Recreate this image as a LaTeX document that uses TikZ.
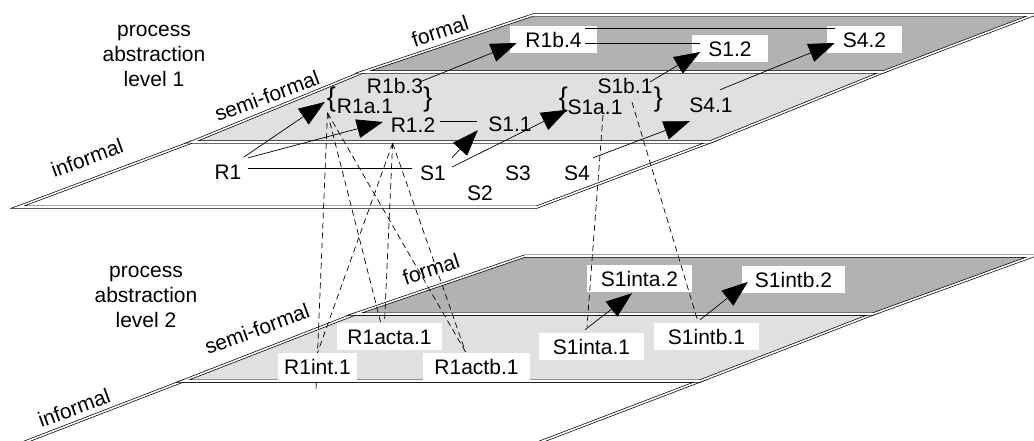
\documentclass[tikz,border=0pt]{standalone}
\usepackage{fontspec}
\setmainfont{Liberation Sans}
\usetikzlibrary{arrows.meta}

\definecolor{semifill}{gray}{0.88}
\definecolor{formalfill}{gray}{0.70}

\begin{document}
\begin{tikzpicture}[
  x=1pt, y=-1pt,
  plane/.style={draw, double, double distance=1.6pt, line width=0.7pt},
  lbl/.style={font=\fontsize{21}{25}\selectfont, inner sep=0pt, text height=15pt, text depth=0pt},
  boxlbl/.style={lbl, fill=white, inner xsep=14pt, inner ysep=6pt},
  brace/.style={font=\fontsize{27}{27}\selectfont, inner sep=0pt},
  level/.style={font=\fontsize{21}{25}\selectfont, align=center},
  layer/.style={font=\fontsize{21}{25}\selectfont, rotate=20},
  arr/.style={line width=0.7pt, -{Triangle[length=26pt,width=19pt]}},
  conn/.style={line width=0.7pt},
  link/.style={line width=0.7pt, dash pattern=on 6pt off 4pt}
]
  \clip (0,0) rectangle (1034,441);

  % Level 1 planes: informal, semi-formal, formal
  \draw[plane, fill=white] (18,207) -- (537,207) -- (710,142) -- (192,142) -- cycle;
  \draw[plane, fill=semifill] (192,142) -- (710,142) -- (883,72) -- (363,72) -- cycle;
  \draw[plane, fill=formalfill] (363,72) -- (883,72) -- (1033,15) -- (533,15) -- cycle;

  % Level 2 planes
  \draw[plane, fill=white] (12,447) -- (527,447) -- (700,381) -- (183,381) -- cycle;
  \draw[plane, fill=semifill] (183,381) -- (700,381) -- (873,314) -- (355,314) -- cycle;
  \draw[plane, fill=formalfill] (355,314) -- (873,314) -- (1033,256) -- (525,256) -- cycle;

  % Plane titles
  \node[level] (lev1) at (154,56) {process\\abstraction\\level 1};
  \node[level] (lev2) at (146,297) {process\\abstraction\\level 2};
  \node[layer] (inf1) at (87,158) {informal};
  \node[layer] (semi1) at (267,96) {semi-formal};
  \node[layer, rotate=-2] (form1) at (440,31) {formal};
  \node[layer] (inf2) at (74,408) {informal};
  \node[layer] (semi2) at (257,329) {semi-formal};
  \node[layer, rotate=-2] (form2) at (431,269) {formal};

  % Level 1 items
  \node[lbl] (r1) at (228,172) {R1};
  \node[lbl] (s1) at (433,173) {S1};
  \node[lbl] (s2) at (480,193) {S2};
  \node[lbl] (s3) at (518,173) {S3};
  \node[lbl] (s4) at (577,173) {S4};
  \node[lbl] (r12) at (413,125) {R1.2};
  \node[lbl] (s11) at (510,124) {S1.1};
  \node[lbl] (r1a1) at (365,106) {R1a.1};
  \node[lbl] (r1b3) at (395,86) {R1b.3};
  \node[lbl] (s1a1) at (595,107) {S1a.1};
  \node[lbl] (s1b1) at (625,86) {S1b.1};
  \node[lbl] (s41) at (711,105) {S4.1};
  \node[brace] (braceRl) at (331.5,100) {\{};
  \node[brace] (braceRr) at (428,100) {\}};
  \node[brace] (braceSl) at (563.5,100) {\{};
  \node[brace] (braceSr) at (658.5,100) {\}};
  \node[boxlbl, inner xsep=15.5pt] (r1b4) at (553.5,40) {R1b.4};
  \node[boxlbl, inner xsep=16pt] (s12) at (730,49) {S1.2};
  \node[boxlbl, inner xsep=16pt] (s42) at (864.5,40) {S4.2};

  % runs under the R1int.1 box
  \coordinate (r1inttick) at (316,390);
  \draw[link] ([shift={(-4,0)}]braceRl.south) -- (r1inttick);

  % Level 2 items
  \node[boxlbl, inner xsep=6pt] (r1int1) at (317.5,366.5) {R1int.1};
  \node[boxlbl, inner xsep=10.5pt] (r1acta1) at (389.5,336.5) {R1acta.1};
  \node[boxlbl, inner xsep=11pt] (r1actb1) at (476.5,366.5) {R1actb.1};
  \node[boxlbl] (s1inta1) at (591.5,346.5) {S1inta.1};
  \node[boxlbl] (s1inta2) at (639.5,278.5) {S1inta.2};
  \node[boxlbl] (s1intb1) at (706.5,336.5) {S1intb.1};
  \node[boxlbl, inner xsep=13pt] (s1intb2) at (793.5,279.5) {S1intb.2};

  % Level 1 connectors
  \draw[arr] ([shift={(2,-7)}]r1.north east) -- ([shift={(-2,2)}]braceRl.west);
  \draw[arr] ([shift={(6.6,-6.5)}]r1.north east) -- ([shift={(-7.8,-3)}]r12.west);
  \draw[conn] ([shift={(6.6,-4)}]r1.east) -- ([shift={(-8.2,-5)}]s1.west);
  \draw[conn] ([shift={(4.8,-4)}]r12.east) -- ([shift={(-11.4,-3)}]s11.west);
  \draw[arr] ([shift={(6,-7.5)}]s1.north east) -- ([shift={(-10.4,-1.5)}]s11.south west);
  \draw[arr] ([shift={(6,-6)}]s1.east) -- ([shift={(-1,-3)}]braceSl.south east);
  \draw[arr] ([shift={(3,-7.5)}]s4.north east) -- ([shift={(0.6,8.5)}]s41.south west);
  \draw[arr] ([shift={(9,-7.5)}]s41.north) -- ([shift={(8,3)}]s42.west);
  \draw[arr] ([shift={(-3,3.5)}]r1b3.north east) -- ([shift={(7,3)}]r1b4.west);
  \draw[arr] ([shift={(-2.4,3.5)}]s1b1.north east) -- ([shift={(8,3)}]s12.west);
  \draw[conn] ([shift={(-12,2.5)}]r1b4.north east) -- ([shift={(8,2.5)}]s42.north west);
  \draw[conn] ([shift={(-12,3)}]r1b4.east) -- ([shift={(8,-6)}]s12.west);

  % Level 2 connectors
  \draw[arr] ([shift={(-6.5,-3)}]s1inta1.north) -- ([shift={(-7.5,1)}]s1inta2.south);
  \draw[arr] ([shift={(-6.5,-3)}]s1intb1.north) -- ([shift={(6,2.5)}]s1intb2.west);

  % Links between the levels
  \draw[link] ([shift={(-4,0)}]braceRl.south) -- ([shift={(-9,-1)}]r1acta1.north);
  \draw[link] ([shift={(-4,0)}]braceRl.south) -- ([shift={(-11,-1)}]r1actb1.north);
  \draw[link] ([shift={(2,10.5)}]r12.south west) -- (r1int1.north);
  \draw[link] ([shift={(2,10.5)}]r12.south west) -- ([shift={(-5,0)}]r1acta1.north);
  \draw[link] ([shift={(2,10.5)}]r12.south west) -- ([shift={(-11,-1)}]r1actb1.north);
  \draw[link] ([shift={(8,0.5)}]s1a1.south) -- ([shift={(-4.5,-6)}]s1inta1.north);
  \draw[link] ([shift={(7,8.5)}]s1b1.south) -- ([shift={(-8.5,-1)}]s1intb1.north);
\end{tikzpicture}
\end{document}
